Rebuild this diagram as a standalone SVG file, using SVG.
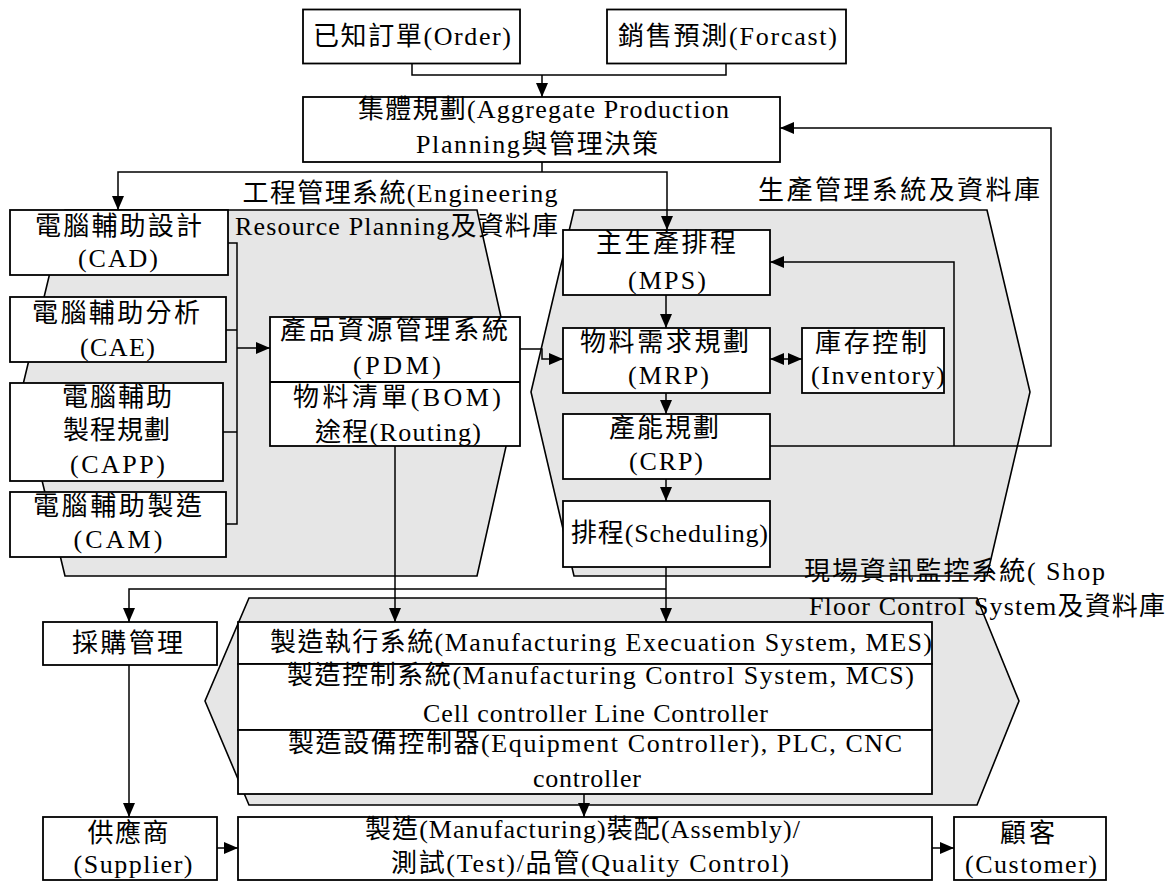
<svg xmlns="http://www.w3.org/2000/svg" width="1173" height="882" viewBox="0 0 1173 882">
<style>
text{font-family:"Liberation Serif","Noto Sans CJK TC",serif;font-size:26px;fill:#000;text-anchor:middle}
.box{fill:#fff;stroke:#000;stroke-width:1.8}
.hex{fill:#e6e6e6;stroke:#000;stroke-width:1.6}
.ln{fill:none;stroke:#000;stroke-width:1.5}
.ar{fill:none;stroke:#000;stroke-width:1.5;marker-end:url(#ah)}
</style>
<defs>
<marker id="ah" markerUnits="userSpaceOnUse" markerWidth="14" markerHeight="12" refX="14" refY="6" orient="auto-start-reverse"><path d="M0,0 L14,6 L0,12 z" fill="#000"/></marker>
</defs>
<g id="hexes">
<polygon id="eng-hex" class="hex" points="65,210 477,210 518,393 477,576 65,576 21,393"/>
<polygon id="prod-hex" class="hex" points="574,210 987,210 1030,392 987,576 574,576 531,392"/>
<polygon id="mfg-hex" class="hex" points="249,598 977,598 1019,701 977,805 249,805 205,701"/>
</g>
<g id="group-labels">
<text x="400" y="202" textLength="315" lengthAdjust="spacing">工程管理系統(Engineering</text>
<text x="396.5" y="235" textLength="323" lengthAdjust="spacing">Resource Planning及資料庫</text>
<text x="899" y="199" textLength="282" lengthAdjust="spacing">生產管理系統及資料庫</text>
<text x="954.5" y="580" textLength="301" lengthAdjust="spacing">現場資訊監控系統( Shop</text>
<text x="987" y="615" textLength="356" lengthAdjust="spacing">Floor Control System及資料庫</text>
</g>
<g id="order"><rect class="box" x="303" y="9.5" width="217" height="54"/><text x="412" y="45" textLength="198" lengthAdjust="spacing">已知訂單(Order)</text></g>
<g id="forcast"><rect class="box" x="607" y="9.5" width="239" height="54"/><text x="727.5" y="45" textLength="219" lengthAdjust="spacing">銷售預測(Forcast)</text></g>
<g id="aggregate"><rect class="box" x="303" y="97" width="477" height="65"/><text x="543.5" y="118" textLength="371" lengthAdjust="spacing">集體規劃(Aggregate Production</text><text x="537" y="153" textLength="242" lengthAdjust="spacing">Planning與管理決策</text></g>
<g id="cad"><rect class="box" x="10" y="210" width="218" height="65"/><text x="118.5" y="235" textLength="167" lengthAdjust="spacing">電腦輔助設計</text><text x="118" y="267" textLength="80" lengthAdjust="spacing">(CAD)</text></g>
<g id="cae"><rect class="box" x="10" y="297" width="216" height="65"/><text x="116" y="322" textLength="168" lengthAdjust="spacing">電腦輔助分析</text><text x="117.5" y="356" textLength="75" lengthAdjust="spacing">(CAE)</text></g>
<g id="capp"><rect class="box" x="10" y="383" width="213" height="98"/><text x="117" y="406" textLength="110" lengthAdjust="spacing">電腦輔助</text><text x="116.5" y="439" textLength="107" lengthAdjust="spacing">製程規劃</text><text x="117.5" y="473" textLength="95" lengthAdjust="spacing">(CAPP)</text></g>
<g id="cam"><rect class="box" x="10" y="492" width="216" height="65"/><text x="117.5" y="515" textLength="169" lengthAdjust="spacing">電腦輔助製造</text><text x="118" y="548" textLength="89" lengthAdjust="spacing">(CAM)</text></g>
<g id="pdm"><rect class="box" x="270" y="317" width="250" height="129"/><line class="ln" x1="270" y1="382" x2="520" y2="382" style="stroke-width:1.8"/><text x="394" y="339" textLength="228" lengthAdjust="spacing">產品資源管理系統</text><text x="397" y="374" textLength="88" lengthAdjust="spacing">(PDM)</text><text x="397" y="406" textLength="208" lengthAdjust="spacing">物料清單(BOM)</text><text x="398" y="441" textLength="166" lengthAdjust="spacing">途程(Routing)</text></g>
<g id="mps"><rect class="box" x="563" y="230" width="207" height="65"/><text x="666" y="252" textLength="140" lengthAdjust="spacing">主生產排程</text><text x="667" y="289" textLength="78" lengthAdjust="spacing">(MPS)</text></g>
<g id="mrp"><rect class="box" x="563" y="328" width="207" height="65"/><text x="664.5" y="351" textLength="169" lengthAdjust="spacing">物料需求規劃</text><text x="668.5" y="384" textLength="81" lengthAdjust="spacing">(MRP)</text></g>
<g id="inventory"><rect class="box" x="802" y="328" width="142" height="65"/><text x="871" y="352" textLength="112" lengthAdjust="spacing">庫存控制</text><text x="878" y="384" textLength="134" lengthAdjust="spacing">(Inventory)</text></g>
<g id="crp"><rect class="box" x="563" y="414" width="207" height="65"/><text x="664" y="437" textLength="110" lengthAdjust="spacing">產能規劃</text><text x="666" y="470" textLength="74" lengthAdjust="spacing">(CRP)</text></g>
<g id="scheduling"><rect class="box" x="563" y="501" width="207" height="66"/><text x="669.5" y="542" textLength="197" lengthAdjust="spacing">排程(Scheduling)</text></g>
<g id="purchasing"><rect class="box" x="43" y="622" width="174" height="43"/><text x="127.5" y="652" textLength="111" lengthAdjust="spacing">採購管理</text></g>
<g id="mes"><rect class="box" x="238" y="622" width="694" height="42"/><text x="601" y="651" textLength="662" lengthAdjust="spacing">製造執行系統(Manufacturing Execuation System, MES)</text></g>
<g id="mcs"><rect class="box" x="238" y="664" width="694" height="66"/><text x="600.5" y="684" textLength="627" lengthAdjust="spacing">製造控制系統(Manufacturing Control System, MCS)</text><text x="595.5" y="722" textLength="345" lengthAdjust="spacing">Cell controller Line Controller</text></g>
<g id="equipment"><rect class="box" x="238" y="730" width="694" height="64"/><text x="595" y="752" textLength="614" lengthAdjust="spacing">製造設備控制器(Equipment Controller), PLC, CNC</text><text x="587" y="787" textLength="108" lengthAdjust="spacing">controller</text></g>
<g id="supplier"><rect class="box" x="43" y="817" width="174" height="63"/><text x="128" y="842" textLength="81" lengthAdjust="spacing">供應商</text><text x="133" y="873" textLength="119" lengthAdjust="spacing">(Supplier)</text></g>
<g id="manufacturing"><rect class="box" x="238" y="817" width="694" height="63"/><text x="582.5" y="838" textLength="435" lengthAdjust="spacing">製造(Manufacturing)裝配(Assembly)/</text><text x="590" y="872" textLength="398" lengthAdjust="spacing">測試(Test)/品管(Quality Control)</text></g>
<g id="customer"><rect class="box" x="954" y="817" width="152" height="63"/><text x="1027.5" y="842" textLength="55" lengthAdjust="spacing">顧客</text><text x="1031" y="873" textLength="132" lengthAdjust="spacing">(Customer)</text></g>
<g id="connectors">
<path class="ln" d="M412,63.5 V75 H726 V63.5"/>
<path class="ar" d="M542,75 V97"/>
<path class="ln" d="M542,162 V172"/>
<path class="ar" d="M542,172 H118 V210"/>
<path class="ar" d="M542,172 H667 V230"/>
<path class="ar" d="M770,446 H1051 V128 H780"/>
<path class="ar" d="M954,446 V262 H770"/>
<path class="ar" d="M666,295 V328"/>
<path class="ar" d="M666,393 V414"/>
<path class="ar" d="M666,479 V501"/>
<path class="ar" d="M770,359 H802" style="marker-start:url(#ah)"/>
<path class="ar" d="M520,349 H542 V359 H563"/>
<path class="ln" d="M228,243 H237 V524 H226 M226,330 H237 M223,432 H237"/>
<path class="ar" d="M237,348 H270"/>
<path class="ar" d="M395,446 V622"/>
<path class="ar" d="M666,567 V622"/>
<path class="ar" d="M666,589 H129 V622"/>
<path class="ar" d="M129,665 V817"/>
<path class="ar" d="M584,794 V817"/>
<path class="ar" d="M217,848 H238"/>
<path class="ar" d="M932,848 H954"/>
</g>
</svg>
